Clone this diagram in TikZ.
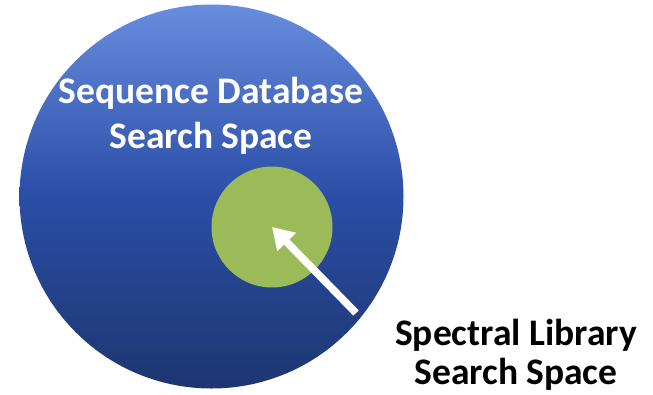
\documentclass[tikz,border=0pt]{standalone}
\usepackage{fontspec}
\setmainfont{Carlito}
\usetikzlibrary{arrows.meta}
\definecolor{topblue}{RGB}{104,140,222}
\definecolor{midblue}{RGB}{42,78,166}
\definecolor{botblue}{RGB}{30,54,112}
\definecolor{libgreen}{RGB}{155,187,89}
\tikzset{
  lbl/.style={font=\fontsize{37.5}{44}\selectfont\bfseries, anchor=base, inner sep=0pt},
  pointer/.style={draw=white, line width=7.5pt, -{Triangle[width=25pt,length=21pt]}}
}
\begin{document}
\begin{tikzpicture}[x=1pt,y=-1pt]
\useasboundingbox (0,0) rectangle (653,394);
\node[circle, minimum size=384pt, inner sep=0pt, top color=topblue, bottom color=botblue, middle color=midblue] (db) at (211.5,196.5) {};
\node[circle, minimum size=121pt, inner sep=0pt, fill=libgreen] (lib) at (272,227) {};
\node[lbl, text=white] (t1) at (211,103.5) {Sequence Database};
\node[lbl, text=white] (t2) at (211,148) {Search Space};
\node[lbl, text=black] (s1) at (516,345) {Spectral Library};
\node[lbl, text=black] (s2) at (516,384.5) {Search Space};
\coordinate (tail) at (356,313);
\draw[pointer] (tail) -- (lib.center);
\end{tikzpicture}
\end{document}
